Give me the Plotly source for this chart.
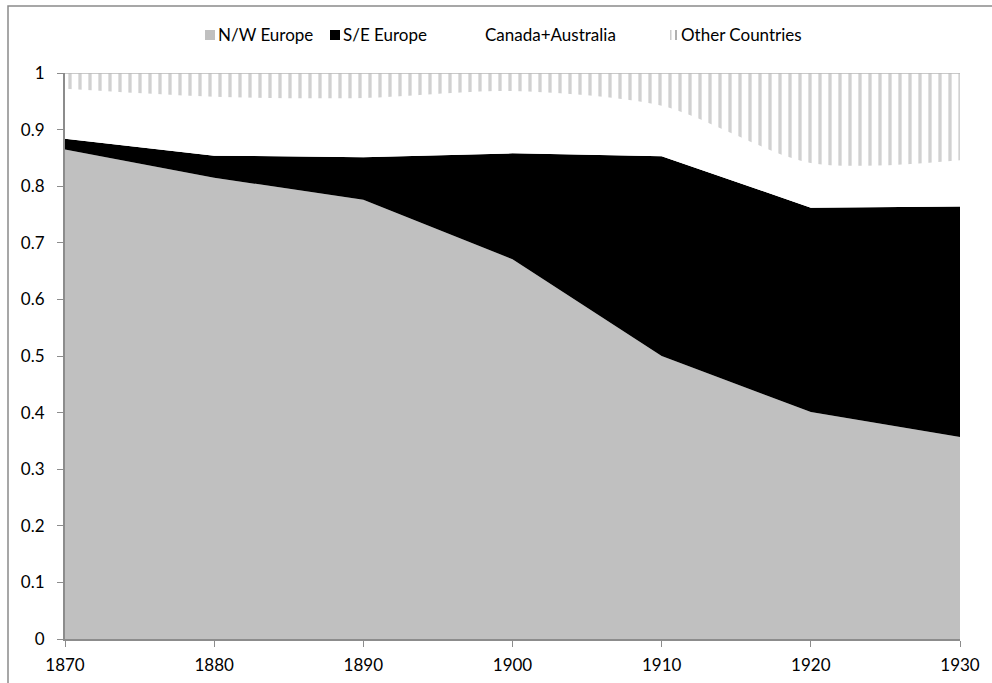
import plotly.graph_objects as go

years = [1870, 1880, 1890, 1900, 1910, 1920, 1930]
nw_europe = [0.865, 0.815, 0.776, 0.671, 0.500, 0.401, 0.357]
se_europe = [0.019, 0.039, 0.075, 0.187, 0.353, 0.361, 0.407]
canada_australia = [0.088, 0.104, 0.105, 0.110, 0.089, 0.079, 0.082]
other_countries = [0.028, 0.042, 0.044, 0.032, 0.058, 0.159, 0.154]

series_names = ["N/W Europe", "S/E Europe", "Canada+Australia", "Other Countries"]

y_ticks = [0, 0.1, 0.2, 0.3, 0.4, 0.5, 0.6, 0.7, 0.8, 0.9, 1]
y_tick_labels = ["0", "0.1", "0.2", "0.3", "0.4", "0.5", "0.6", "0.7", "0.8", "0.9", "1"]
x_ticks = years

FONT = "Lato"
FS = 17

W, H = 992, 683
ML, MR, MT, MB = 65, 32, 73, 44
PW, PH = W - ML - MR, H - MT - MB


def px(x):
    return (x - ML) / PW


def py(y):
    return 1 + (MT - y) / PH


fig = go.Figure()
fig.add_trace(go.Scatter(x=years, y=nw_europe, name=series_names[0], stackgroup="one",
                         mode="lines", line=dict(width=0, color="#c0c0c0"),
                         fillcolor="#c0c0c0", showlegend=False))
fig.add_trace(go.Scatter(x=years, y=se_europe, name=series_names[1], stackgroup="one",
                         mode="lines", line=dict(width=0, color="#000000"),
                         fillcolor="#000000", showlegend=False))
fig.add_trace(go.Scatter(x=years, y=canada_australia, name=series_names[2], stackgroup="one",
                         mode="lines", line=dict(width=0, color="#ffffff", shape="spline", smoothing=0.8),
                         fillcolor="#ffffff", showlegend=False))
fig.add_trace(go.Scatter(x=years, y=other_countries, name=series_names[3], stackgroup="one",
                         mode="lines", line=dict(width=1.5, color="#b8b8b8"),
                         fillcolor="#ffffff", showlegend=False,
                         fillpattern=dict(shape="|", size=10, solidity=0.33,
                                          fgcolor="#a4a4a4", bgcolor="#ffffff")))

shapes = [
    # chart border (outline rectangle; only top and left edges fall inside the page)
    dict(type="rect", xref="paper", yref="paper",
         x0=px(8), x1=px(1100), y0=py(6), y1=py(800),
         line=dict(color="#8a8a8a", width=1.5), fillcolor="rgba(0,0,0,0)"),
    # legend symbols
    dict(type="rect", xref="paper", yref="paper",
         x0=px(205), x1=px(215), y0=py(30), y1=py(40),
         line=dict(width=0), fillcolor="#c0c0c0"),
    dict(type="rect", xref="paper", yref="paper",
         x0=px(330), x1=px(340), y0=py(30), y1=py(40),
         line=dict(width=0), fillcolor="#000000"),
    dict(type="rect", xref="paper", yref="paper",
         x0=px(670), x1=px(671.5), y0=py(30), y1=py(40),
         line=dict(width=0), fillcolor="#cccccc"),
    dict(type="rect", xref="paper", yref="paper",
         x0=px(675), x1=px(677), y0=py(30), y1=py(40),
         line=dict(width=0), fillcolor="#b0b0b0"),
]

legend_x = [216, 341, 483, 679]
annotations = [
    dict(xref="paper", yref="paper", x=px(lx), y=py(35), xanchor="left", yanchor="middle",
         text=name, showarrow=False, font=dict(family=FONT, size=FS, color="#000000"))
    for lx, name in zip(legend_x, series_names)
]

fig.update_layout(
    width=W, height=H,
    margin=dict(l=ML, r=MR, t=MT, b=MB, autoexpand=False),
    paper_bgcolor="white", plot_bgcolor="white",
    font=dict(family=FONT, size=FS, color="#000000"),
    showlegend=False,
    shapes=shapes,
    annotations=annotations,
)
fig.update_xaxes(range=[1870, 1930], tickvals=x_ticks, ticktext=[str(y) for y in x_ticks],
                 showgrid=False, zeroline=False, showline=True, linecolor="#8c8c8c", linewidth=2,
                 ticks="outside", ticklen=6, tickcolor="#8c8c8c", tickwidth=1,
                 ticklabelstandoff=4, automargin=False,
                 tickfont=dict(family=FONT, size=FS))
fig.update_yaxes(range=[0, 1], tickvals=y_ticks, ticktext=y_tick_labels,
                 showgrid=False, zeroline=False, showline=True, linecolor="#8c8c8c", linewidth=2,
                 ticks="outside", ticklen=6, tickcolor="#8c8c8c", tickwidth=1,
                 ticklabelstandoff=9, automargin=False,
                 tickfont=dict(family=FONT, size=FS))

fig.write_html("out.html", config={"displayModeBar": False},
               post_script="document.body.style.margin='0px';")
